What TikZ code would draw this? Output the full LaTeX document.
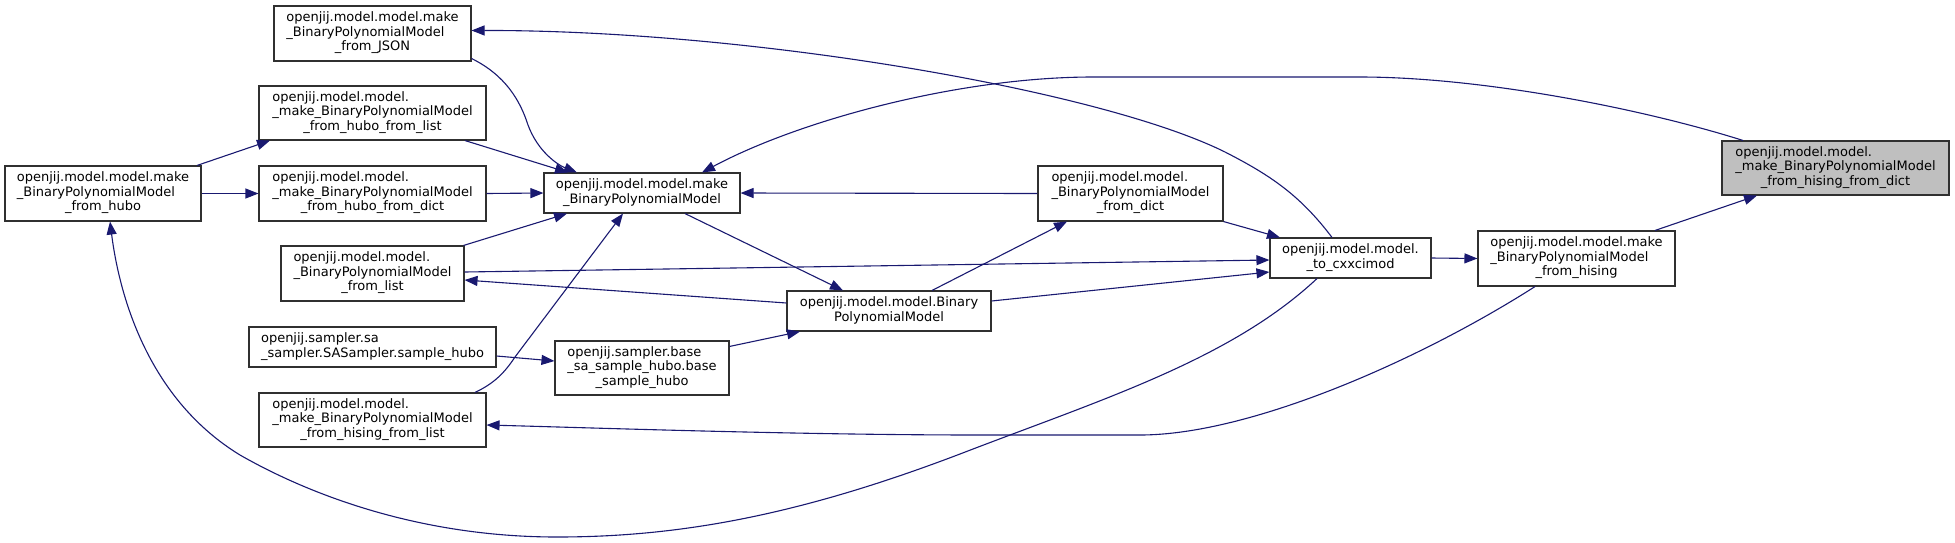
\documentclass[tikz,border=0pt]{standalone}
\usepackage{fontspec}
\setmainfont{DejaVu Sans}
\usetikzlibrary{arrows.meta}
\definecolor{edgeblue}{HTML}{191970}
\definecolor{nodeborder}{HTML}{303030}
\definecolor{hlfill}{HTML}{BFBFBF}
\newcommand{\nlA}[2]{\begin{tabular}{@{}l@{}}#1\\\multicolumn{1}{@{}c@{}}{#2}\end{tabular}}
\newcommand{\nlB}[3]{\begin{tabular}{@{}l@{}}#1\\#2\\\multicolumn{1}{@{}c@{}}{#3}\end{tabular}}
\begin{document}
\begin{tikzpicture}[x=1pt,y=-1pt,
  box/.style={draw=nodeborder, line width=1.1pt, fill=white, inner sep=0pt,
    font=\fontsize{13}{14.5}\selectfont},
  conn/.style={draw=edgeblue, line width=1.1pt, -{Triangle[length=13pt,width=10pt]}}]
\useasboundingbox (0,0) rectangle (1955,542);

% nodes
\node[box, minimum width=197pt, minimum height=55pt] (json) at (372.5,33.5)
  {\nlB{openjij.model.model.make}{\_BinaryPolynomialModel}{\_from\_JSON}};
\node[box, minimum width=227pt, minimum height=54pt] (hfl) at (372.5,113)
  {\nlB{openjij.model.model.}{\_make\_BinaryPolynomialModel}{\_from\_hubo\_from\_list}};
\node[box, minimum width=196pt, minimum height=55pt] (fh) at (103,193.5)
  {\nlB{openjij.model.model.make}{\_BinaryPolynomialModel}{\_from\_hubo}};
\node[box, minimum width=227pt, minimum height=55pt] (hfd) at (372.5,193.5)
  {\nlB{openjij.model.model.}{\_make\_BinaryPolynomialModel}{\_from\_hubo\_from\_dict}};
\node[box, minimum width=183pt, minimum height=55pt] (bfl) at (372.5,273.5)
  {\nlB{openjij.model.model.}{\_BinaryPolynomialModel}{\_from\_list}};
\node[box, minimum width=247pt, minimum height=40pt] (sas) at (372.5,347)
  {\nlA{openjij.sampler.sa}{\_sampler.SASampler.sample\_hubo}};
\node[box, minimum width=227pt, minimum height=54pt] (hsl) at (372.5,420)
  {\nlB{openjij.model.model.}{\_make\_BinaryPolynomialModel}{\_from\_hising\_from\_list}};
\node[box, minimum width=196pt, minimum height=40pt] (mb) at (642,193)
  {\nlA{openjij.model.model.make}{\_BinaryPolynomialModel}};
\node[box, minimum width=174pt, minimum height=54pt] (bsh) at (642,368)
  {\nlB{openjij.sampler.base}{\_sa\_sample\_hubo.base}{\_sample\_hubo}};
\node[box, minimum width=204pt, minimum height=40pt] (bpm) at (889,311)
  {\nlA{openjij.model.model.Binary}{PolynomialModel}};
\node[box, minimum width=185pt, minimum height=55pt] (bfd) at (1130.5,193.5)
  {\nlB{openjij.model.model.}{\_BinaryPolynomialModel}{\_from\_dict}};
\node[box, minimum width=161pt, minimum height=40pt] (tc) at (1350.5,258)
  {\nlA{openjij.model.model.}{\_to\_cxxcimod}};
\node[box, minimum width=197pt, minimum height=55pt] (fhs) at (1576.5,258.5)
  {\nlB{openjij.model.model.make}{\_BinaryPolynomialModel}{\_from\_hising}};
\node[box, fill=hlfill, minimum width=227pt, minimum height=54pt] (hsd) at (1835.5,168)
  {\nlB{openjij.model.model.}{\_make\_BinaryPolynomialModel}{\_from\_hising\_from\_dict}};

% connectors
\draw[conn] ([xshift=-92.5pt]hsd.north) .. controls (1640,108) and (1480,77) .. (1360,77)
  -- (1093,77) .. controls (960,77) and (800,120) .. ([xshift=60pt]mb.north);
\draw[conn] ([xshift=78.5pt]fhs.north) -- ([xshift=-78.5pt]hsd.south);
\draw[conn] (tc.east) -- (fhs.west);
\draw[conn] ([xshift=-41.5pt]fhs.south) .. controls (1420,360) and (1250,435) .. (1140,435)
  -- (980,435) .. controls (800,435) and (600,428) .. ([yshift=-5pt]hsl.east);
\draw[conn] ([xshift=-33.5pt]tc.south) .. controls (1230,360) and (1100,400) .. (960,454)
  .. controls (800,515) and (680,537) .. (557,537)
  .. controls (420,537) and (310,495) .. (240,455)
  .. controls (150,400) and (120,300) .. ([xshift=7pt]fh.south);
\draw[conn] ([xshift=-18.5pt]tc.north) .. controls (1300,195) and (1270,175) .. (1225,152)
  .. controls (1100,90) and (750,30) .. ([yshift=3pt]json.east);
\draw[conn] ([yshift=-25pt]json.east) .. controls (505,75) and (520,100) .. (528,125)
  .. controls (538,152) and (558,165) .. ([xshift=-65pt]mb.north);
\draw[conn] ([xshift=92.5pt]hfl.south) -- ([xshift=-74pt]mb.north);
\draw[conn] (hfd.east) -- (mb.west);
\draw[conn] ([xshift=94pt]fh.north) -- ([xshift=-102.5pt]hfl.south);
\draw[conn] (fh.east) -- (hfd.west);
\draw[conn] ([xshift=-1pt]bfl.north east) -- ([xshift=-75pt]mb.south);
\draw[conn] ([xshift=102.5pt]hsl.north) .. controls (495,383) and (505,372) .. (515,357)
  -- ([xshift=-19pt]mb.south);
\draw[conn] ([yshift=1.5pt]bfl.east) -- ([yshift=-2pt]tc.west);
\draw[conn] ([yshift=8pt]bpm.west) -- ([yshift=-6.5pt]bfl.east);
\draw[conn] ([yshift=10pt]bpm.east) -- ([yshift=-14pt]tc.west);
\draw[conn] ([xshift=43pt]mb.south) -- ([xshift=-46pt]bpm.north);
\draw[conn] ([xshift=43pt]bpm.north) -- ([xshift=-63.5pt]bfd.south);
\draw[conn] (bfd.west) -- (mb.east);
\draw[conn] (bfd.south east) -- ([xshift=-70.5pt]tc.north);
\draw[conn] ([yshift=-6pt]bsh.north east) -- ([xshift=-89pt]bpm.south);
\draw[conn] ([yshift=-9pt]sas.east) -- ([yshift=7pt]bsh.west);
\end{tikzpicture}
\end{document}
